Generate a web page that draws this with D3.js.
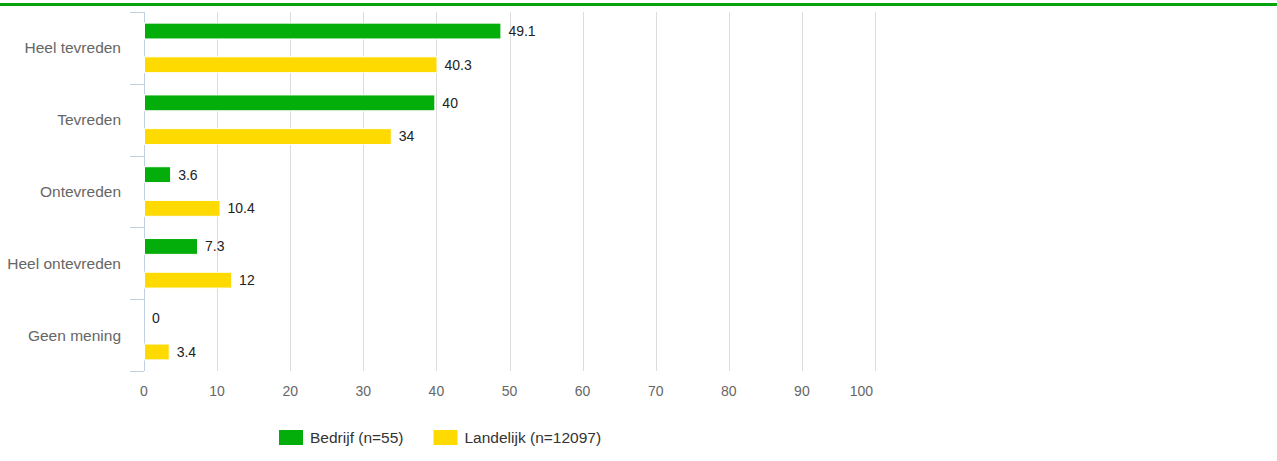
<!DOCTYPE html>
<html>
<head>
<meta charset="utf-8">
<script src="https://cdn.jsdelivr.net/npm/d3@7"></script>
<style>
  body { margin: 0; background: #fff; }
  svg { display: block; font-family: "Liberation Sans", Arial, sans-serif; }
</style>
</head>
<body>
<div id="container"></div>
<script>
/* DATA */
const categories = ["Heel tevreden", "Tevreden", "Ontevreden", "Heel ontevreden", "Geen mening"];
const seriesNames = ["Bedrijf (n=55)", "Landelijk (n=12097)"];
const bedrijf = [49.1, 40, 3.6, 7.3, 0];
const landelijk = [40.3, 34, 10.4, 12, 3.4];
const xTicks = [0, 10, 20, 30, 40, 50, 60, 70, 80, 90, 100];
const colors = ["#03ae0a", "#ffda00"];

/* CONSTANTS */
const W = 1277, H = 461;
const margin = {top: 12, left: 144};
const plotW = 731, plotH = 359;

const svg = d3.select("#container").append("svg")
    .attr("width", W)
    .attr("height", H);

// green rule at the top
svg.append("rect")
    .attr("x", 0).attr("y", 3)
    .attr("width", W).attr("height", 3)
    .attr("fill", "#03a50b");

const g = svg.append("g")
    .attr("transform", "translate(" + margin.left + "," + margin.top + ")");

const xScale = d3.scaleLinear()
    .domain([0, 100])
    .range([0, plotW]);

const yScale = d3.scaleBand()
    .domain(categories)
    .range([0, plotH]);

const inner = d3.scaleBand()
    .domain([0, 1])
    .range([0, yScale.bandwidth()])
    .paddingInner(0.53)
    .paddingOuter(0.33);

// grid
g.selectAll("line.grid")
  .data(xTicks.slice(1))
  .join("line")
    .attr("class", "grid")
    .attr("x1", d => Math.round(xScale(d)) + 0.5)
    .attr("x2", d => Math.round(xScale(d)) + 0.5)
    .attr("y1", 0)
    .attr("y2", plotH)
    .attr("stroke", "#dcdcdc")
    .attr("stroke-width", 1);

// x tick labels (last one is justified inside like the original)
const last = xTicks[xTicks.length - 1];
g.selectAll("text.xtick")
  .data(xTicks)
  .join("text")
    .attr("class", "xtick")
    .attr("x", d => d === last ? xScale(d) - 2 : xScale(d))
    .attr("y", plotH + 25)
    .attr("text-anchor", d => d === last ? "end" : "middle")
    .style("font-size", "14px")
    .style("fill", "#666")
    .text(d => d);

// y axis line + tick marks at band borders
const borders = categories.map(c => yScale(c)).concat([plotH]);
g.append("line")
    .attr("x1", 0.5).attr("x2", 0.5)
    .attr("y1", 0).attr("y2", plotH)
    .attr("stroke", "#c0d0e0");
g.selectAll("line.ytick")
  .data(borders)
  .join("line")
    .attr("class", "ytick")
    .attr("x1", -14).attr("x2", 0)
    .attr("y1", d => Math.round(d) + 0.5)
    .attr("y2", d => Math.round(d) + 0.5)
    .attr("stroke", "#c0d0e0");

// category labels
g.selectAll("text.cat")
  .data(categories)
  .join("text")
    .attr("class", "cat")
    .attr("x", -23)
    .attr("y", d => yScale(d) + yScale.bandwidth() / 2)
    .attr("dy", "0.35em")
    .attr("text-anchor", "end")
    .style("font-size", "15.5px")
    .style("fill", "#666")
    .text(d => d);

// bars
const series = [bedrijf, landelijk];
series.forEach((vals, si) => {
  const rows = categories.map((c, i) => ({cat: c, value: vals[i]}));
  g.selectAll("rect.s" + si)
    .data(rows)
    .join("rect")
      .attr("class", "s" + si)
      .attr("x", 0.5)
      .attr("y", d => yScale(d.cat) + inner(si))
      .attr("width", d => xScale(d.value) * 0.993)
      .attr("height", inner.bandwidth())
      .attr("fill", colors[si])
      .attr("stroke", d => d.value > 0 ? "#fff" : "none")
      .attr("stroke-width", 1);

  g.selectAll("text.v" + si)
    .data(rows)
    .join("text")
      .attr("class", "v" + si)
      .attr("x", d => xScale(d.value) * 0.993 + 8)
      .attr("y", d => yScale(d.cat) + inner(si) + inner.bandwidth() / 2)
      .attr("dy", "0.35em")
      .style("font-size", "14px")
      .style("fill", "#222")
      .text(d => d.value);
});

// legend
const legend = svg.append("g")
    .attr("transform", "translate(279,430)");
let lx = 0;
seriesNames.forEach((name, i) => {
  legend.append("rect")
      .attr("x", lx).attr("y", 0)
      .attr("width", 24).attr("height", 15)
      .attr("fill", colors[i]);
  const t = legend.append("text")
      .attr("x", lx + 31)
      .attr("y", 8)
      .attr("dy", "0.35em")
      .style("font-size", "15.5px")
      .style("fill", "#333")
      .text(name);
  lx += 31 + t.node().getComputedTextLength() + 30;
});
</script>
</body>
</html>
